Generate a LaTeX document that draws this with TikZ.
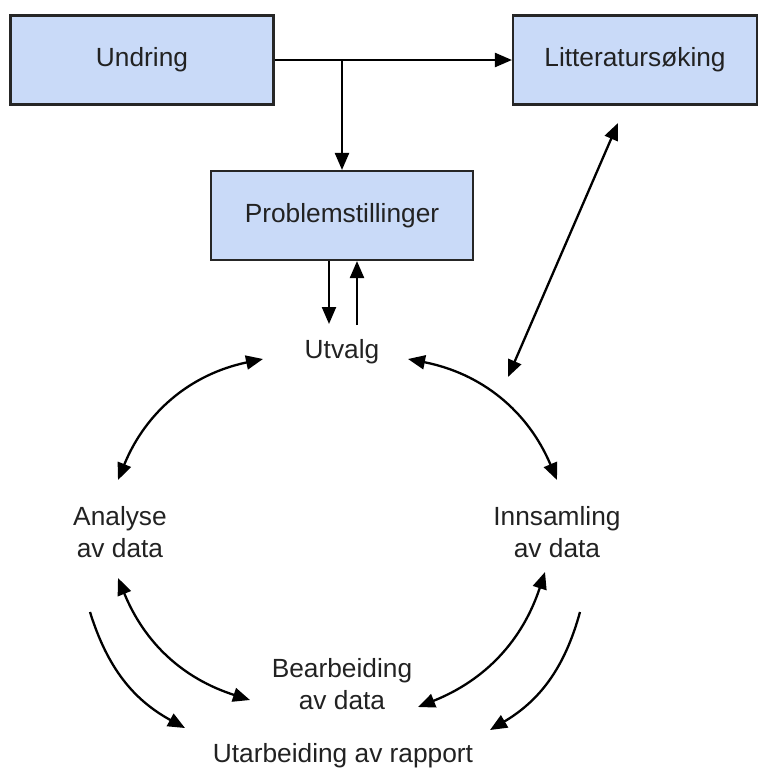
\documentclass[tikz,border=0pt]{standalone}
\usepackage{fontspec}
\setmainfont{Liberation Sans}
\usetikzlibrary{arrows.meta}
\definecolor{boxfill}{HTML}{C9DAF8}
\definecolor{txt}{HTML}{222222}
\begin{document}
\begin{tikzpicture}[x=1pt,y=-1pt,
  box/.style={draw=black!85, line width=2.1pt, fill=boxfill, minimum height=89pt, inner sep=0pt, text=txt, font=\fontsize{26.3}{32}\selectfont},
  lbl/.style={text=txt, font=\fontsize{26.3}{32}\selectfont, align=center, inner sep=0pt},
  conn/.style={line width=2.3pt, -{Triangle[length=17pt,width=14pt]}},
  dconn/.style={line width=2.3pt, {Triangle[length=17pt,width=14pt]}-{Triangle[length=17pt,width=14pt]}}]
\useasboundingbox (0,0) rectangle (765,774);
% boxes
\node[box, minimum width=263pt] (und) at (142,60) {Undring};
\node[box, minimum width=244pt] (lit) at (635,60) {Litteratursøking};
\node[box, minimum width=262pt] (prob) at (342,215.5) {Problemstillinger};
% labels
\node[lbl] (utv) at (342,352) {Utvalg};
\node[lbl] (ana) at (120,532) {Analyse\\av data};
\node[lbl] (inn) at (557,532) {Innsamling\\av data};
\node[lbl] (bea) at (342,684) {Bearbeiding\\av data};
\node[lbl] (uta) at (343,756) {Utarbeiding av rapport};
% top connectors
\draw[conn] (und.east) -- (lit.west);
\coordinate (j) at (prob.north |- und.east);
\draw[conn] (j) -- (prob.north);
\coordinate (pd0) at ([xshift=-13pt]prob.south);
\coordinate (pd1) at (329,324);
\coordinate (pu0) at (357,325);
\coordinate (pu1) at ([xshift=15pt]prob.south);
\draw[conn] (pd0) -- (pd1);
\draw[conn] (pu0) -- (pu1);
% litteratur link
\coordinate (l0) at (618,123);
\coordinate (l1) at (508,377);
\draw[dconn] (l0) -- (l1);
% cycle
\coordinate (a1) at (263,359);
\coordinate (a2) at (118,480);
\draw[dconn] (a1) to[bend right=28] (a2);
\coordinate (b1) at (408,359);
\coordinate (b2) at (557,480);
\draw[dconn] (b1) to[bend left=28] (b2);
\coordinate (c1) at (118,578);
\coordinate (c2) at (250,700);
\draw[dconn] (c1) to[bend right=25] (c2);
\coordinate (d1) at (545,572);
\coordinate (d2) at (418,707);
\draw[dconn] (d1) to[bend left=25] (d2);
\coordinate (e1) at (90,612);
\coordinate (e2) at (185,728);
\draw[conn] (e1) to[bend right=22] (e2);
\coordinate (f1) at (580,612);
\coordinate (f2) at (490,730);
\draw[conn] (f1) to[bend left=22] (f2);
\end{tikzpicture}
\end{document}
